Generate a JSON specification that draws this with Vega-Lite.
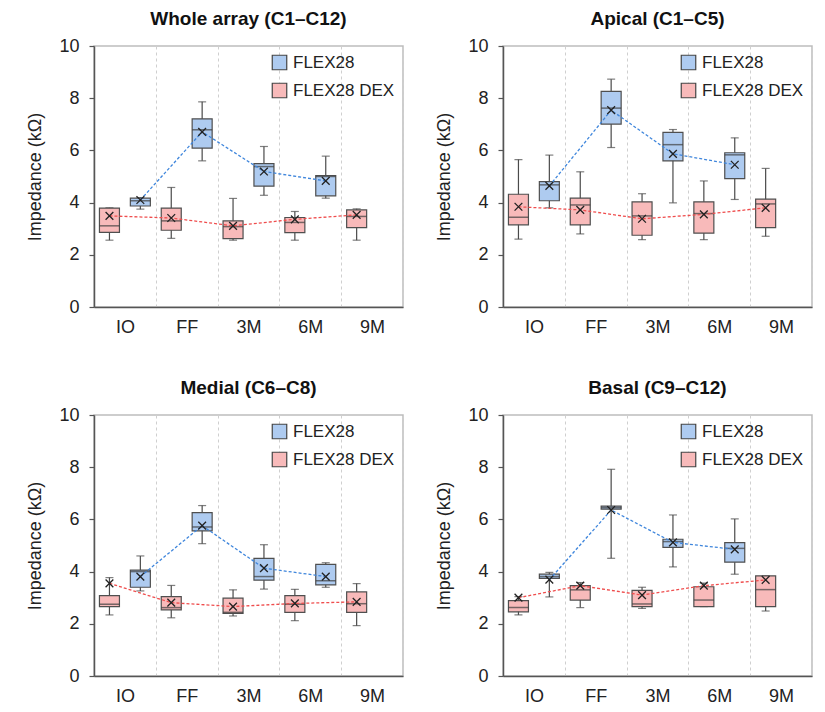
{
  "$schema": "https://vega.github.io/schema/vega-lite/v6.json",
  "description": "Impedance of FLEX28 and FLEX28 DEX electrodes over time, four cochlear regions.",
  "padding": {"left": 26, "top": 9, "right": 5, "bottom": 5},
  "datasets": {
    "stats": [
      {"panel": "Whole", "time": "IO", "group": "FLEX28 DEX", "min": 2.56, "q1": 2.86, "median": 3.11, "q3": 3.79, "max": 3.8, "mean": 3.49},
      {"panel": "Whole", "time": "IO", "group": "FLEX28", "min": 3.75, "q1": 3.87, "median": 4.07, "q3": 4.17, "max": 4.19, "mean": 4.1},
      {"panel": "Whole", "time": "FF", "group": "FLEX28 DEX", "min": 2.63, "q1": 2.94, "median": 3.3, "q3": 3.79, "max": 4.58, "mean": 3.41},
      {"panel": "Whole", "time": "FF", "group": "FLEX28", "min": 5.6, "q1": 6.09, "median": 6.79, "q3": 7.21, "max": 7.86, "mean": 6.71},
      {"panel": "Whole", "time": "3M", "group": "FLEX28 DEX", "min": 2.56, "q1": 2.62, "median": 3.08, "q3": 3.3, "max": 4.16, "mean": 3.11},
      {"panel": "Whole", "time": "3M", "group": "FLEX28", "min": 4.28, "q1": 4.63, "median": 5.38, "q3": 5.49, "max": 6.15, "mean": 5.19},
      {"panel": "Whole", "time": "6M", "group": "FLEX28 DEX", "min": 2.56, "q1": 2.85, "median": 3.24, "q3": 3.43, "max": 3.66, "mean": 3.36},
      {"panel": "Whole", "time": "6M", "group": "FLEX28", "min": 4.17, "q1": 4.26, "median": 5.0, "q3": 5.03, "max": 5.78, "mean": 4.83},
      {"panel": "Whole", "time": "9M", "group": "FLEX28 DEX", "min": 2.56, "q1": 3.04, "median": 3.47, "q3": 3.72, "max": 3.76, "mean": 3.53},

      {"panel": "Apical", "time": "IO", "group": "FLEX28 DEX", "min": 2.6, "q1": 3.15, "median": 3.44, "q3": 4.32, "max": 5.65, "mean": 3.84},
      {"panel": "Apical", "time": "IO", "group": "FLEX28", "min": 3.8, "q1": 4.07, "median": 4.68, "q3": 4.8, "max": 5.82, "mean": 4.64},
      {"panel": "Apical", "time": "FF", "group": "FLEX28 DEX", "min": 2.8, "q1": 3.15, "median": 3.91, "q3": 4.17, "max": 5.18, "mean": 3.72},
      {"panel": "Apical", "time": "FF", "group": "FLEX28", "min": 6.11, "q1": 7.01, "median": 7.62, "q3": 8.26, "max": 8.73, "mean": 7.54},
      {"panel": "Apical", "time": "3M", "group": "FLEX28 DEX", "min": 2.58, "q1": 2.75, "median": 3.49, "q3": 4.03, "max": 4.34, "mean": 3.38},
      {"panel": "Apical", "time": "3M", "group": "FLEX28", "min": 3.99, "q1": 5.6, "median": 6.22, "q3": 6.69, "max": 6.8, "mean": 5.87},
      {"panel": "Apical", "time": "6M", "group": "FLEX28 DEX", "min": 2.58, "q1": 2.83, "median": 3.58, "q3": 4.03, "max": 4.83, "mean": 3.55},
      {"panel": "Apical", "time": "6M", "group": "FLEX28", "min": 4.12, "q1": 4.92, "median": 5.83, "q3": 5.91, "max": 6.48, "mean": 5.45},
      {"panel": "Apical", "time": "9M", "group": "FLEX28 DEX", "min": 2.71, "q1": 3.04, "median": 3.95, "q3": 4.13, "max": 5.31, "mean": 3.8},

      {"panel": "Medial", "time": "IO", "group": "FLEX28 DEX", "min": 2.34, "q1": 2.66, "median": 2.75, "q3": 3.08, "max": 3.77, "mean": 3.55},
      {"panel": "Medial", "time": "IO", "group": "FLEX28", "min": 3.26, "q1": 3.4, "median": 4.0, "q3": 4.06, "max": 4.6, "mean": 3.81},
      {"panel": "Medial", "time": "FF", "group": "FLEX28 DEX", "min": 2.23, "q1": 2.53, "median": 2.62, "q3": 3.04, "max": 3.47, "mean": 2.81},
      {"panel": "Medial", "time": "FF", "group": "FLEX28", "min": 5.07, "q1": 5.56, "median": 5.71, "q3": 6.26, "max": 6.53, "mean": 5.76},
      {"panel": "Medial", "time": "3M", "group": "FLEX28 DEX", "min": 2.3, "q1": 2.4, "median": 2.44, "q3": 2.98, "max": 3.3, "mean": 2.66},
      {"panel": "Medial", "time": "3M", "group": "FLEX28", "min": 3.33, "q1": 3.67, "median": 3.81, "q3": 4.51, "max": 5.03, "mean": 4.13},
      {"panel": "Medial", "time": "6M", "group": "FLEX28 DEX", "min": 2.12, "q1": 2.44, "median": 2.75, "q3": 3.08, "max": 3.32, "mean": 2.78},
      {"panel": "Medial", "time": "6M", "group": "FLEX28", "min": 3.4, "q1": 3.49, "median": 3.65, "q3": 4.28, "max": 4.34, "mean": 3.81},
      {"panel": "Medial", "time": "9M", "group": "FLEX28 DEX", "min": 1.93, "q1": 2.44, "median": 2.77, "q3": 3.22, "max": 3.54, "mean": 2.84},

      {"panel": "Basal", "time": "IO", "group": "FLEX28 DEX", "min": 2.34, "q1": 2.46, "median": 2.62, "q3": 2.89, "max": 3.04, "mean": 3.0},
      {"panel": "Basal", "time": "IO", "group": "FLEX28", "min": 3.03, "q1": 3.74, "median": 3.81, "q3": 3.9, "max": 3.97, "mean": 3.69},
      {"panel": "Basal", "time": "FF", "group": "FLEX28 DEX", "min": 2.62, "q1": 2.91, "median": 3.3, "q3": 3.46, "max": 3.58, "mean": 3.46},
      {"panel": "Basal", "time": "FF", "group": "FLEX28", "min": 4.51, "q1": 6.39, "median": 6.45, "q3": 6.51, "max": 7.92, "mean": 6.36},
      {"panel": "Basal", "time": "3M", "group": "FLEX28 DEX", "min": 2.59, "q1": 2.66, "median": 2.76, "q3": 3.28, "max": 3.4, "mean": 3.1},
      {"panel": "Basal", "time": "3M", "group": "FLEX28", "min": 4.18, "q1": 4.93, "median": 5.15, "q3": 5.24, "max": 6.17, "mean": 5.12},
      {"panel": "Basal", "time": "6M", "group": "FLEX28 DEX", "min": 2.66, "q1": 2.66, "median": 2.91, "q3": 3.42, "max": 3.56, "mean": 3.46},
      {"panel": "Basal", "time": "6M", "group": "FLEX28", "min": 3.9, "q1": 4.36, "median": 4.89, "q3": 5.11, "max": 6.02, "mean": 4.85},
      {"panel": "Basal", "time": "9M", "group": "FLEX28 DEX", "min": 2.49, "q1": 2.66, "median": 3.31, "q3": 3.84, "max": 3.84, "mean": 3.68}
    ]
  },
  "columns": 2,
  "spacing": {"column": 31, "row": 41},
  "resolve": {"scale": {"fill": "independent"}, "legend": {"fill": "independent"}},
  "concat": [
    {
      "title": "Whole array (C1–C12)",
      "width": 309, "height": 261,
      "data": {"name": "stats"},
      "transform": [{"filter": "datum.panel == 'Whole'"}],
      "encoding": {
        "x": {"field": "time", "type": "nominal", "sort": ["IO", "FF", "3M", "6M", "9M"], "title": null,
              "scale": {"paddingInner": 0, "paddingOuter": 0}},
        "xOffset": {"field": "group", "type": "nominal", "sort": ["FLEX28 DEX", "FLEX28"], "scale": {"paddingInner": 0, "paddingOuter": 0}}
      },
      "layer": [
        {"mark": {"type": "rule", "color": "#4a4a4a", "strokeWidth": 1.2},
         "encoding": {"y": {"field": "min", "type": "quantitative", "title": "Impedance (kΩ)", "scale": {"domain": [0, 10], "nice": false},
                            "axis": {"values": [0, 1, 2, 3, 4, 5, 6, 7, 8, 9, 10], "labelExpr": "datum.value % 2 == 0 ? datum.label : ''"}},
                      "y2": {"field": "max"}}},
        {"mark": {"type": "tick", "color": "#4a4a4a", "size": 8, "thickness": 1.2}, "encoding": {"y": {"field": "min", "type": "quantitative"}}},
        {"mark": {"type": "tick", "color": "#4a4a4a", "size": 8, "thickness": 1.2}, "encoding": {"y": {"field": "max", "type": "quantitative"}}},
        {"mark": {"type": "bar", "width": 20, "stroke": "#4f4f4f", "strokeWidth": 1.2},
         "encoding": {"y": {"field": "q1", "type": "quantitative"}, "y2": {"field": "q3"},
                      "fill": {"field": "group", "type": "nominal", "scale": {"domain": ["FLEX28", "FLEX28 DEX"], "range": ["#aecbf0", "#f8baba"]},
                               "legend": {"title": null, "orient": "top-right", "offset": 8, "padding": 0, "symbolType": "square", "symbolSize": 210,
                                          "symbolStrokeColor": "#444", "symbolStrokeWidth": 1.2, "symbolOpacity": 1, "labelFontSize": 17, "labelColor": "#222", "rowPadding": 7, "labelOffset": 5}}}},
        {"mark": {"type": "tick", "color": "#3f3f3f", "size": 20, "thickness": 1.5}, "encoding": {"y": {"field": "median", "type": "quantitative"}}},
        {"transform": [{"filter": "datum.group == 'FLEX28'"}],
         "mark": {"type": "line", "color": "#3f86dc", "strokeDash": [3, 2], "strokeWidth": 1.3},
         "encoding": {"y": {"field": "mean", "type": "quantitative"}}},
        {"transform": [{"filter": "datum.group == 'FLEX28 DEX'"}],
         "mark": {"type": "line", "color": "#ef4d4d", "strokeDash": [3, 2], "strokeWidth": 1.3},
         "encoding": {"y": {"field": "mean", "type": "quantitative"}}},
        {"mark": {"type": "point", "shape": "M-1,-1L1,1M-1,1L1,-1", "filled": false, "color": "#222", "size": 60, "strokeWidth": 1.3, "opacity": 1},
         "encoding": {"y": {"field": "mean", "type": "quantitative"}}}
      ]
    },
    {
      "title": "Apical (C1–C5)",
      "width": 309, "height": 261,
      "data": {"name": "stats"},
      "transform": [{"filter": "datum.panel == 'Apical'"}],
      "encoding": {
        "x": {"field": "time", "type": "nominal", "sort": ["IO", "FF", "3M", "6M", "9M"], "title": null,
              "scale": {"paddingInner": 0, "paddingOuter": 0}},
        "xOffset": {"field": "group", "type": "nominal", "sort": ["FLEX28 DEX", "FLEX28"], "scale": {"paddingInner": 0, "paddingOuter": 0}}
      },
      "layer": [
        {"mark": {"type": "rule", "color": "#4a4a4a", "strokeWidth": 1.2},
         "encoding": {"y": {"field": "min", "type": "quantitative", "title": "Impedance (kΩ)", "scale": {"domain": [0, 10], "nice": false},
                            "axis": {"values": [0, 1, 2, 3, 4, 5, 6, 7, 8, 9, 10], "labelExpr": "datum.value % 2 == 0 ? datum.label : ''"}},
                      "y2": {"field": "max"}}},
        {"mark": {"type": "tick", "color": "#4a4a4a", "size": 8, "thickness": 1.2}, "encoding": {"y": {"field": "min", "type": "quantitative"}}},
        {"mark": {"type": "tick", "color": "#4a4a4a", "size": 8, "thickness": 1.2}, "encoding": {"y": {"field": "max", "type": "quantitative"}}},
        {"mark": {"type": "bar", "width": 20, "stroke": "#4f4f4f", "strokeWidth": 1.2},
         "encoding": {"y": {"field": "q1", "type": "quantitative"}, "y2": {"field": "q3"},
                      "fill": {"field": "group", "type": "nominal", "scale": {"domain": ["FLEX28", "FLEX28 DEX"], "range": ["#aecbf0", "#f8baba"]},
                               "legend": {"title": null, "orient": "top-right", "offset": 8, "padding": 0, "symbolType": "square", "symbolSize": 210,
                                          "symbolStrokeColor": "#444", "symbolStrokeWidth": 1.2, "symbolOpacity": 1, "labelFontSize": 17, "labelColor": "#222", "rowPadding": 7, "labelOffset": 5}}}},
        {"mark": {"type": "tick", "color": "#3f3f3f", "size": 20, "thickness": 1.5}, "encoding": {"y": {"field": "median", "type": "quantitative"}}},
        {"transform": [{"filter": "datum.group == 'FLEX28'"}],
         "mark": {"type": "line", "color": "#3f86dc", "strokeDash": [3, 2], "strokeWidth": 1.3},
         "encoding": {"y": {"field": "mean", "type": "quantitative"}}},
        {"transform": [{"filter": "datum.group == 'FLEX28 DEX'"}],
         "mark": {"type": "line", "color": "#ef4d4d", "strokeDash": [3, 2], "strokeWidth": 1.3},
         "encoding": {"y": {"field": "mean", "type": "quantitative"}}},
        {"mark": {"type": "point", "shape": "M-1,-1L1,1M-1,1L1,-1", "filled": false, "color": "#222", "size": 60, "strokeWidth": 1.3, "opacity": 1},
         "encoding": {"y": {"field": "mean", "type": "quantitative"}}}
      ]
    },
    {
      "title": "Medial (C6–C8)",
      "width": 309, "height": 261,
      "data": {"name": "stats"},
      "transform": [{"filter": "datum.panel == 'Medial'"}],
      "encoding": {
        "x": {"field": "time", "type": "nominal", "sort": ["IO", "FF", "3M", "6M", "9M"], "title": null,
              "scale": {"paddingInner": 0, "paddingOuter": 0}},
        "xOffset": {"field": "group", "type": "nominal", "sort": ["FLEX28 DEX", "FLEX28"], "scale": {"paddingInner": 0, "paddingOuter": 0}}
      },
      "layer": [
        {"mark": {"type": "rule", "color": "#4a4a4a", "strokeWidth": 1.2},
         "encoding": {"y": {"field": "min", "type": "quantitative", "title": "Impedance (kΩ)", "scale": {"domain": [0, 10], "nice": false},
                            "axis": {"values": [0, 1, 2, 3, 4, 5, 6, 7, 8, 9, 10], "labelExpr": "datum.value % 2 == 0 ? datum.label : ''"}},
                      "y2": {"field": "max"}}},
        {"mark": {"type": "tick", "color": "#4a4a4a", "size": 8, "thickness": 1.2}, "encoding": {"y": {"field": "min", "type": "quantitative"}}},
        {"mark": {"type": "tick", "color": "#4a4a4a", "size": 8, "thickness": 1.2}, "encoding": {"y": {"field": "max", "type": "quantitative"}}},
        {"mark": {"type": "bar", "width": 20, "stroke": "#4f4f4f", "strokeWidth": 1.2},
         "encoding": {"y": {"field": "q1", "type": "quantitative"}, "y2": {"field": "q3"},
                      "fill": {"field": "group", "type": "nominal", "scale": {"domain": ["FLEX28", "FLEX28 DEX"], "range": ["#aecbf0", "#f8baba"]},
                               "legend": {"title": null, "orient": "top-right", "offset": 8, "padding": 0, "symbolType": "square", "symbolSize": 210,
                                          "symbolStrokeColor": "#444", "symbolStrokeWidth": 1.2, "symbolOpacity": 1, "labelFontSize": 17, "labelColor": "#222", "rowPadding": 7, "labelOffset": 5}}}},
        {"mark": {"type": "tick", "color": "#3f3f3f", "size": 20, "thickness": 1.5}, "encoding": {"y": {"field": "median", "type": "quantitative"}}},
        {"transform": [{"filter": "datum.group == 'FLEX28'"}],
         "mark": {"type": "line", "color": "#3f86dc", "strokeDash": [3, 2], "strokeWidth": 1.3},
         "encoding": {"y": {"field": "mean", "type": "quantitative"}}},
        {"transform": [{"filter": "datum.group == 'FLEX28 DEX'"}],
         "mark": {"type": "line", "color": "#ef4d4d", "strokeDash": [3, 2], "strokeWidth": 1.3},
         "encoding": {"y": {"field": "mean", "type": "quantitative"}}},
        {"mark": {"type": "point", "shape": "M-1,-1L1,1M-1,1L1,-1", "filled": false, "color": "#222", "size": 60, "strokeWidth": 1.3, "opacity": 1},
         "encoding": {"y": {"field": "mean", "type": "quantitative"}}}
      ]
    },
    {
      "title": "Basal (C9–C12)",
      "width": 309, "height": 261,
      "data": {"name": "stats"},
      "transform": [{"filter": "datum.panel == 'Basal'"}],
      "encoding": {
        "x": {"field": "time", "type": "nominal", "sort": ["IO", "FF", "3M", "6M", "9M"], "title": null,
              "scale": {"paddingInner": 0, "paddingOuter": 0}},
        "xOffset": {"field": "group", "type": "nominal", "sort": ["FLEX28 DEX", "FLEX28"], "scale": {"paddingInner": 0, "paddingOuter": 0}}
      },
      "layer": [
        {"mark": {"type": "rule", "color": "#4a4a4a", "strokeWidth": 1.2},
         "encoding": {"y": {"field": "min", "type": "quantitative", "title": "Impedance (kΩ)", "scale": {"domain": [0, 10], "nice": false},
                            "axis": {"values": [0, 1, 2, 3, 4, 5, 6, 7, 8, 9, 10], "labelExpr": "datum.value % 2 == 0 ? datum.label : ''"}},
                      "y2": {"field": "max"}}},
        {"mark": {"type": "tick", "color": "#4a4a4a", "size": 8, "thickness": 1.2}, "encoding": {"y": {"field": "min", "type": "quantitative"}}},
        {"mark": {"type": "tick", "color": "#4a4a4a", "size": 8, "thickness": 1.2}, "encoding": {"y": {"field": "max", "type": "quantitative"}}},
        {"mark": {"type": "bar", "width": 20, "stroke": "#4f4f4f", "strokeWidth": 1.2},
         "encoding": {"y": {"field": "q1", "type": "quantitative"}, "y2": {"field": "q3"},
                      "fill": {"field": "group", "type": "nominal", "scale": {"domain": ["FLEX28", "FLEX28 DEX"], "range": ["#aecbf0", "#f8baba"]},
                               "legend": {"title": null, "orient": "top-right", "offset": 8, "padding": 0, "symbolType": "square", "symbolSize": 210,
                                          "symbolStrokeColor": "#444", "symbolStrokeWidth": 1.2, "symbolOpacity": 1, "labelFontSize": 17, "labelColor": "#222", "rowPadding": 7, "labelOffset": 5}}}},
        {"mark": {"type": "tick", "color": "#3f3f3f", "size": 20, "thickness": 1.5}, "encoding": {"y": {"field": "median", "type": "quantitative"}}},
        {"transform": [{"filter": "datum.group == 'FLEX28'"}],
         "mark": {"type": "line", "color": "#3f86dc", "strokeDash": [3, 2], "strokeWidth": 1.3},
         "encoding": {"y": {"field": "mean", "type": "quantitative"}}},
        {"transform": [{"filter": "datum.group == 'FLEX28 DEX'"}],
         "mark": {"type": "line", "color": "#ef4d4d", "strokeDash": [3, 2], "strokeWidth": 1.3},
         "encoding": {"y": {"field": "mean", "type": "quantitative"}}},
        {"mark": {"type": "point", "shape": "M-1,-1L1,1M-1,1L1,-1", "filled": false, "color": "#222", "size": 60, "strokeWidth": 1.3, "opacity": 1},
         "encoding": {"y": {"field": "mean", "type": "quantitative"}}}
      ]
    }
  ],
  "config": {
    "font": "Liberation Sans",
    "view": {"stroke": "#bdbdbd", "strokeWidth": 1.5},
    "title": {"fontSize": 19, "fontWeight": "bold", "color": "#111", "offset": 8},
    "axis": {"labelFontSize": 18, "titleFontSize": 18, "titleFontWeight": "normal", "labelColor": "#222", "titleColor": "#222",
             "domainColor": "#555", "domainWidth": 1.5, "tickColor": "#555", "tickWidth": 1.2},
    "axisX": {"ticks": false, "tickBand": "extent", "grid": true, "gridDash": [3, 3], "gridColor": "#cfcfcf", "labelAngle": 0, "labelPadding": 11},
    "axisY": {"grid": false, "tickSize": 5, "labelPadding": 10, "titlePadding": 14}
  }
}
